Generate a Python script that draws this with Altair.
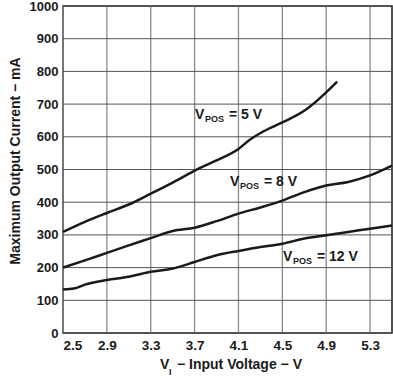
import altair as alt
import pandas as pd

# ---- data ----
x_5v = [2.5, 2.7, 2.9, 3.1, 3.3, 3.5, 3.75, 3.9, 4.1, 4.2, 4.33, 4.5, 4.71, 4.9, 5.0]
y_5v = [309, 340, 367, 393, 426, 460, 505, 528, 563, 590, 617, 644, 682, 736, 769]

x_8v = [2.5, 2.7, 2.9, 3.1, 3.3, 3.5, 3.7, 3.9, 4.1, 4.3, 4.5, 4.7, 4.9, 5.1, 5.3, 5.5]
y_8v = [200, 222, 245, 268, 290, 312, 322, 342, 365, 384, 405, 431, 451, 462, 482, 512]

x_12v = [2.5, 2.6, 2.7, 2.9, 3.1, 3.3, 3.5, 3.7, 3.9, 4.1, 4.3, 4.5, 4.7, 4.9, 5.1, 5.3, 5.5]
y_12v = [133, 136, 148, 162, 172, 187, 197, 217, 238, 251, 263, 273, 289, 299, 309, 319, 329]

x_ticks = [2.5, 2.9, 3.3, 3.7, 4.1, 4.5, 4.9, 5.3]
y_ticks = [0, 100, 200, 300, 400, 500, 600, 700, 800, 900, 1000]

label_names = ["5 V", "8 V", "12 V"]
label_x = [3.704, 4.023, 4.506]
label_y = [655, 451, 219.5]

rows = []
for name, xs_, ys_ in [("5", x_5v, y_5v), ("8", x_8v, y_8v), ("12", x_12v, y_12v)]:
    for a, b in zip(xs_, ys_):
        rows.append({"series": name, "v": a, "i": b})
df = pd.DataFrame(rows)

lab = pd.DataFrame({"name": label_names, "v": label_x, "i": label_y})
lab["rest"] = "= " + lab["name"]

FONT = "Liberation Sans"
INK = "#1a1a1a"
W, H = 329, 327

xs = alt.Scale(domain=[2.5, 5.5], nice=False, zero=False)
ys = alt.Scale(domain=[0, 1000], nice=False)

AX_X = alt.Axis(values=x_ticks, format=".1f", title=None, labelOverlap=False, grid=False,
                ticks=False, domain=False, labelFont=FONT, labelFontSize=13.5,
                labelFontWeight="bold", labelColor=INK, labelPadding=5)
AX_Y = alt.Axis(values=y_ticks, format="d", title=None, labelOverlap=False, grid=False,
                ticks=False, domain=False, labelFont=FONT, labelFontSize=13,
                labelFontWeight="bold", labelColor=INK, labelPadding=5)

X = alt.X("v:Q", scale=xs, axis=AX_X)
Y = alt.Y("i:Q", scale=ys, axis=AX_Y)

grid_x = alt.Chart(pd.DataFrame({"v": x_ticks})).mark_rule(color="#8a8a8a", strokeWidth=1.3).encode(x=X)
grid_y = alt.Chart(pd.DataFrame({"i": y_ticks})).mark_rule(color="#555555", strokeWidth=1).encode(y=Y)

lines = alt.Chart(df).mark_line(color=INK, strokeWidth=2.5, interpolate="monotone").encode(
    x=X, y=Y, detail="series:N")

base_lab = alt.Chart(lab)
t_v = base_lab.mark_text(align="left", baseline="alphabetic", font=FONT, fontSize=14,
                         fontWeight="bold", color=INK).encode(
    x=X, y=Y, text=alt.value("V"))
t_pos = base_lab.mark_text(align="left", baseline="alphabetic", font=FONT, fontSize=9,
                           fontWeight="bold", color=INK, dx=10, dy=3).encode(
    x=X, y=Y, text=alt.value("POS"))
t_rest = base_lab.mark_text(align="left", baseline="alphabetic", font=FONT, fontSize=14,
                            fontWeight="bold", color=INK, dx=34).encode(
    x=X, y=Y, text="rest:N")

one = pd.DataFrame({"k": [0]})
xt_v = alt.Chart(one).mark_text(align="left", baseline="alphabetic", font=FONT, fontSize=14,
                                fontWeight="bold", color=INK).encode(
    x=alt.value(97), y=alt.value(363), text=alt.value("V"))
xt_i = alt.Chart(one).mark_text(align="left", baseline="alphabetic", font=FONT, fontSize=9,
                                fontWeight="bold", color=INK).encode(
    x=alt.value(106), y=alt.value(369), text=alt.value("I"))
xt_rest = alt.Chart(one).mark_text(align="left", baseline="alphabetic", font=FONT, fontSize=14,
                                   fontWeight="bold", color=INK).encode(
    x=alt.value(114), y=alt.value(363), text=alt.value("− Input Voltage − V"))
yt = alt.Chart(one).mark_text(align="center", baseline="alphabetic", font=FONT, fontSize=14,
                              fontWeight="bold", color=INK, angle=270).encode(
    x=alt.value(-43), y=alt.value(155), text=alt.value("Maximum Output Current − mA"))

chart = alt.layer(grid_x, grid_y, lines, t_v, t_pos, t_rest, xt_v, xt_i, xt_rest, yt).properties(
    width=W, height=H,
    autosize=alt.AutoSizeParams(type="none"),
    padding={"left": 63, "top": 6, "right": 1, "bottom": 43},
    background="white",
).configure_view(stroke=INK, strokeWidth=1.5)

chart.save("out.html", embed_options={"renderer": "svg", "actions": False})
